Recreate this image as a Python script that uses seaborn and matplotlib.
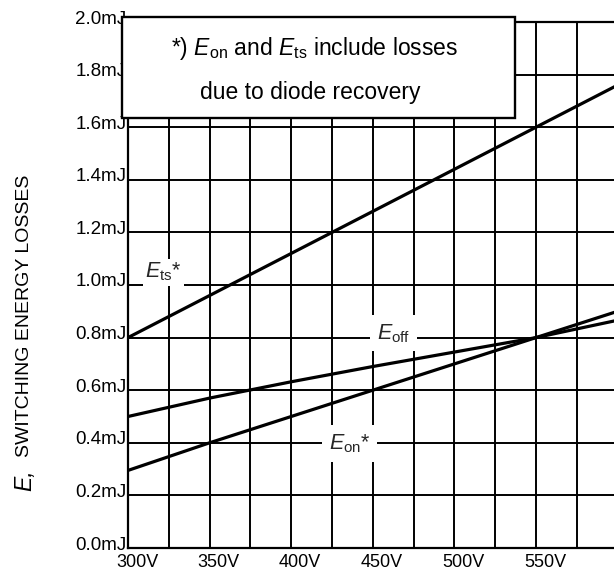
import numpy as np
import matplotlib
matplotlib.use("Agg")
import matplotlib.pyplot as plt
import matplotlib.transforms as mtrans
from matplotlib.patches import Rectangle
from matplotlib.ticker import FixedLocator
import seaborn as sns

# ---- data ----
voltage = [300, 350, 400, 450, 500, 550, 600]
e_ts = [0.80, 0.96, 1.12, 1.28, 1.44, 1.60, 1.76]
e_off = [0.50, 0.57, 0.632, 0.69, 0.745, 0.80, 0.866]
e_on = [0.295, 0.40, 0.50, 0.60, 0.70, 0.80, 0.90]

x_major = [300, 350, 400, 450, 500, 550]
x_minor = [325, 375, 425, 475, 525, 575]
x_labels = ["300V", "350V", "400V", "450V", "500V", "550V"]
y_ticks = [0.0, 0.2, 0.4, 0.6, 0.8, 1.0, 1.2, 1.4, 1.6, 1.8, 2.0]
y_labels = ["0.0mJ", "0.2mJ", "0.4mJ", "0.6mJ", "0.8mJ", "1.0mJ",
            "1.2mJ", "1.4mJ", "1.6mJ", "1.8mJ", "2.0mJ"]

sns.set_theme(style="white")
plt.rcParams["font.family"] = ["Liberation Sans", "DejaVu Sans"]
plt.rcParams["mathtext.fontset"] = "custom"
plt.rcParams["mathtext.rm"] = "Liberation Sans"
plt.rcParams["mathtext.it"] = "Liberation Sans:italic"
plt.rcParams["mathtext.default"] = "it"

W, H, DPI = 614, 575, 100
fig = plt.figure(figsize=(W / DPI, H / DPI), dpi=DPI)
left_px, top_px, bottom_px = 128, 22, 548
ax = fig.add_axes([left_px / W, 1 - bottom_px / H, 1 - left_px / W, (bottom_px - top_px) / H])

lw_curve = 2.3
for ys in (e_ts, e_off, e_on):
    sns.lineplot(x=voltage, y=ys, ax=ax, color="black", linewidth=lw_curve, zorder=3)

px_per_v = 40.8 / 25
ax.set_xlim(300, 300 + (W - left_px) / px_per_v)
ax.set_ylim(0, 2.0)

ax.xaxis.set_major_locator(FixedLocator(x_major))
ax.xaxis.set_minor_locator(FixedLocator(x_minor))
ax.set_xticklabels(x_labels)
ax.yaxis.set_major_locator(FixedLocator(y_ticks))
ax.set_yticklabels(y_labels)

ax.grid(which="both", axis="both", color="black", linewidth=1.4)
ax.set_axisbelow(True)
ax.tick_params(axis="both", which="both", length=0)
ax.tick_params(axis="x", pad=4, labelsize=13, colors="black")
ax.tick_params(axis="y", pad=1, labelsize=13.5, colors="black")

for s in ("left", "bottom", "top"):
    ax.spines[s].set_color("black")
    ax.spines[s].set_linewidth(1.6)
ax.spines["right"].set_visible(False)

xoff = mtrans.ScaledTranslation(9 / DPI, 0, fig.dpi_scale_trans)
for lab in ax.get_xticklabels():
    lab.set_transform(lab.get_transform() + xoff)
yoff = mtrans.ScaledTranslation(0, -1.5 / DPI, fig.dpi_scale_trans)
for lab in ax.get_yticklabels():
    lab.set_verticalalignment("baseline")
    lab.set_transform(lab.get_transform() + yoff)

ax.set_xlabel("")
ax.set_ylabel("")

# y axis title
fig.text(25 / W, 1 - 491 / H, "E,", rotation=90, ha="center", va="bottom",
         fontsize=16.5, style="italic", color="black")
fig.text(25 / W, 1 - 457 / H, "SWITCHING ENERGY LOSSES", rotation=90,
         ha="center", va="bottom", fontsize=14, color="black")

# curve labels
ax.text(310.4, 1.027, r"$E_{\mathrm{ts}}$*", fontsize=15.5, ha="left", va="baseline",
        zorder=4, bbox=dict(facecolor="white", edgecolor="none", pad=1.5))
ax.text(452.5, 0.795, r"$E_{\mathrm{off}}$", fontsize=15.5, ha="left", va="baseline",
        zorder=4, bbox=dict(facecolor="white", edgecolor="none", pad=5))
ax.text(423, 0.375, r"$E_{\mathrm{on}}$*", fontsize=15.5, ha="left", va="baseline",
        zorder=4, bbox=dict(facecolor="white", edgecolor="none", pad=5))

# note box
bx0 = 300 + (122 - left_px) / px_per_v
bx1 = 300 + (515 - left_px) / px_per_v
by0 = (bottom_px - 118) / 263.0
by1 = (bottom_px - 17) / 263.0
ax.add_patch(Rectangle((bx0, by0), bx1 - bx0, by1 - by0, facecolor="white",
                       edgecolor="black", linewidth=1.7, clip_on=False, zorder=6))
ax.text(300 + (315 - left_px) / px_per_v, (bottom_px - 48) / 263.0,
        r"*) $E_{\mathrm{on}}$ and $E_{\mathrm{ts}}$ include losses",
        fontsize=16.5, ha="center", va="center", zorder=7, color="black")
ax.text(300 + (310 - left_px) / px_per_v, (bottom_px - 92) / 263.0,
        "due to diode recovery", fontsize=16.5, ha="center", va="center",
        zorder=7, color="black")

fig.savefig("out.png", dpi=DPI)
